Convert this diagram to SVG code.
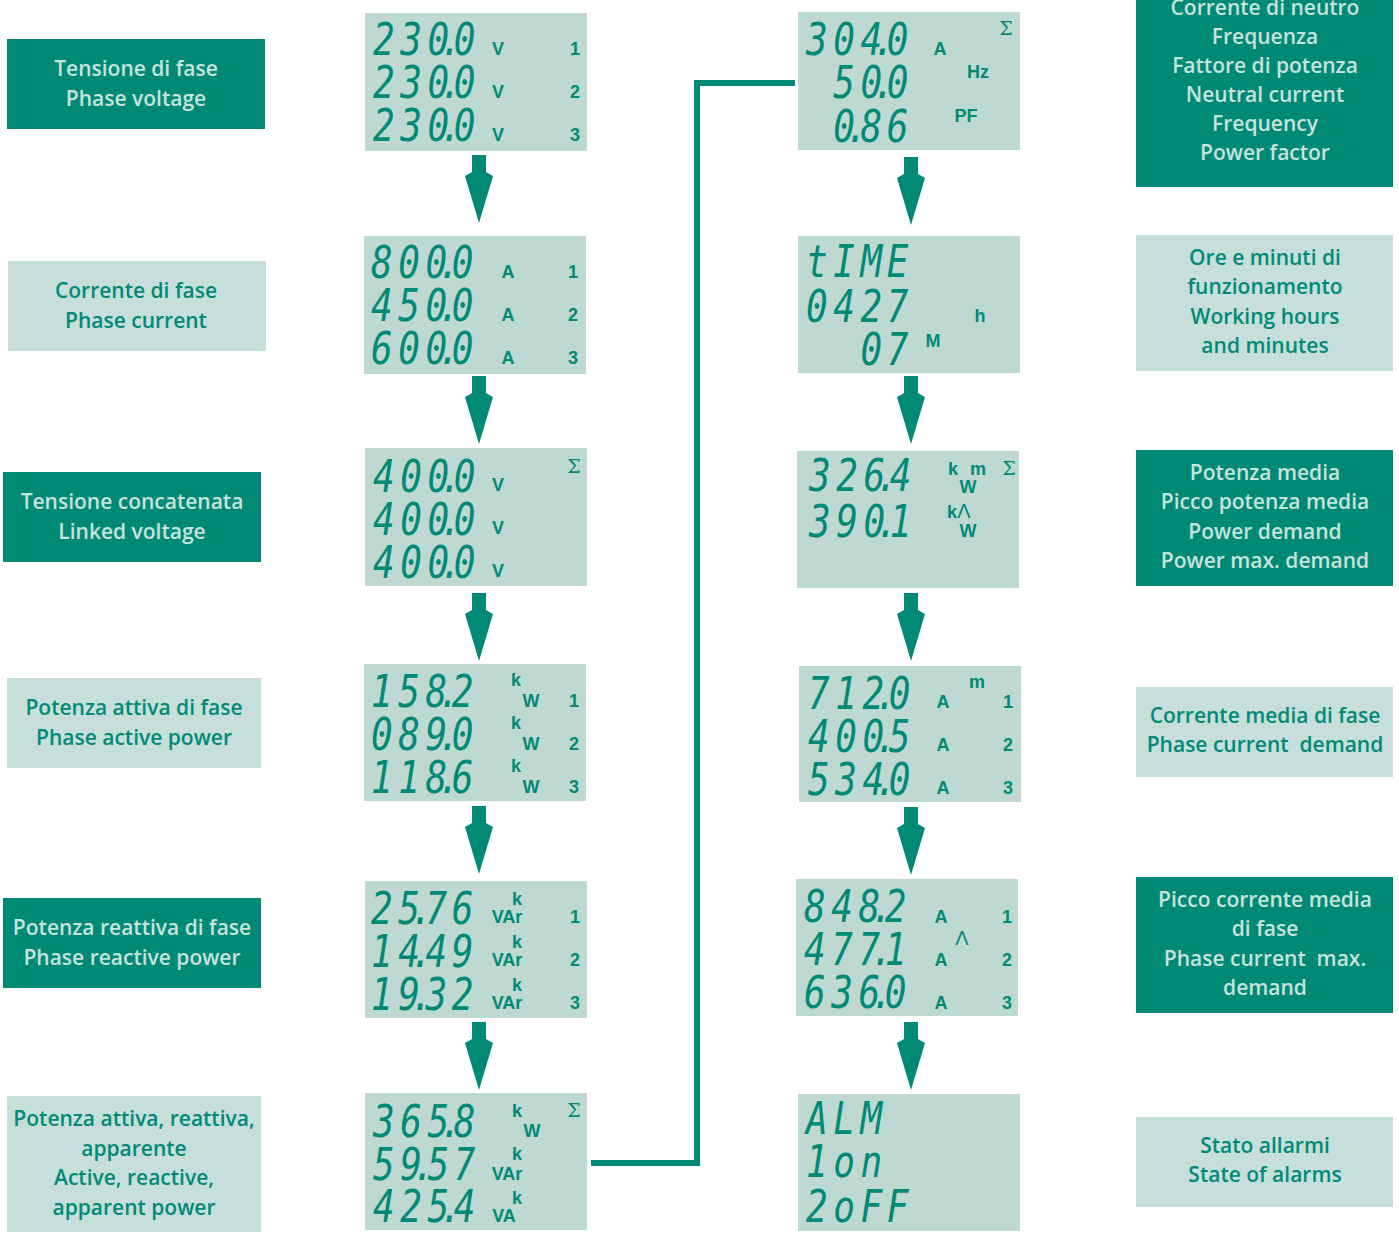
<svg xmlns="http://www.w3.org/2000/svg" xmlns:xlink="http://www.w3.org/1999/xlink" width="1399" height="1236" viewBox="0 0 1399 1236">
<style>
.dk{fill:#008A76}
.lt{fill:#C6DFDA}
.lcd{fill:#BDD9D2}
.lbl{font-family:'Open Sans','Noto Sans',sans-serif;font-weight:600;font-size:21px;text-anchor:middle}
.ld{fill:#C7E3DC}
.ll{fill:#008A76}
.seg{font-family:'DejaVu Sans Mono',monospace;font-style:oblique;font-size:45px;fill:#008A76}
.u{font-family:'Liberation Sans',Arial,sans-serif;font-weight:bold;font-size:18px;fill:#008A76;text-anchor:middle}
.sig{font-family:'DejaVu Serif',serif;font-size:19px;fill:#008A76;text-anchor:middle}
.lam{font-family:'Liberation Sans',Arial,sans-serif;font-size:20px;fill:#008A76;text-anchor:middle}
.arr{fill:#008A76}
.conn{fill:none;stroke:#008A76;stroke-width:6}
</style>
<defs>
<path id="arrow" d="M-7,0 H7 V17 L14,21 L0,68 L-14,21 L-7,17 Z"/>
</defs>

<g id="connectors">
<use xlink:href="#arrow" class="arr" x="479" y="155"/>
<use xlink:href="#arrow" class="arr" x="479" y="376"/>
<use xlink:href="#arrow" class="arr" x="479" y="593"/>
<use xlink:href="#arrow" class="arr" x="479" y="806"/>
<use xlink:href="#arrow" class="arr" x="479" y="1022"/>
<use xlink:href="#arrow" class="arr" x="911" y="157"/>
<use xlink:href="#arrow" class="arr" x="911" y="376"/>
<use xlink:href="#arrow" class="arr" x="911" y="593"/>
<use xlink:href="#arrow" class="arr" x="911" y="807"/>
<use xlink:href="#arrow" class="arr" x="911" y="1022"/>
<polyline class="conn" points="591,1163 697,1163 697,83 795,83"/>
</g>

<!-- Left labels -->
<g id="label-phase-voltage">
<rect class="dk" x="7" y="39" width="258" height="90"/>
<text class="lbl ld" x="136" y="76">Tensione di fase</text>
<text class="lbl ld" x="136" y="106">Phase voltage</text>
</g>
<g id="label-phase-current">
<rect class="lt" x="8" y="261" width="258" height="90"/>
<text class="lbl ll" x="136" y="298">Corrente di fase</text>
<text class="lbl ll" x="136" y="328">Phase current</text>
</g>
<g id="label-linked-voltage">
<rect class="dk" x="3" y="472" width="258" height="90"/>
<text class="lbl ld" x="132" y="509">Tensione concatenata</text>
<text class="lbl ld" x="132" y="539">Linked voltage</text>
</g>
<g id="label-phase-active">
<rect class="lt" x="7" y="678" width="254" height="90"/>
<text class="lbl ll" x="134" y="715">Potenza attiva di fase</text>
<text class="lbl ll" x="134" y="745">Phase active power</text>
</g>
<g id="label-phase-reactive">
<rect class="dk" x="3" y="898" width="258" height="90"/>
<text class="lbl ld" x="132" y="935">Potenza reattiva di fase</text>
<text class="lbl ld" x="132" y="965">Phase reactive power</text>
</g>
<g id="label-total-power">
<rect class="lt" x="7" y="1096" width="254" height="136"/>
<text class="lbl ll" x="134" y="1126">Potenza attiva, reattiva,</text>
<text class="lbl ll" x="134" y="1156">apparente</text>
<text class="lbl ll" x="134" y="1185">Active, reactive,</text>
<text class="lbl ll" x="134" y="1215">apparent power</text>
</g>

<!-- Middle LCDs -->
<g id="lcd-phase-voltage">
<rect class="lcd" x="365" y="13" width="222" height="138"/>
<text class="seg" transform="translate(373,55) scale(0.8,1)" x="0 34 68 84 101" y="0">230.0</text>
<text class="seg" transform="translate(373,98) scale(0.8,1)" x="0 34 68 84 101" y="0">230.0</text>
<text class="seg" transform="translate(373,141) scale(0.8,1)" x="0 34 68 84 101" y="0">230.0</text>
<text class="u" x="498" y="55">V</text><text class="u" x="575" y="55">1</text>
<text class="u" x="498" y="98">V</text><text class="u" x="575" y="98">2</text>
<text class="u" x="498" y="141">V</text><text class="u" x="575" y="141">3</text>
</g>
<g id="lcd-phase-current">
<rect class="lcd" x="364" y="236" width="222" height="138"/>
<text class="seg" transform="translate(371,278) scale(0.8,1)" x="0 34 68 84 101" y="0">800.0</text>
<text class="seg" transform="translate(371,321) scale(0.8,1)" x="0 34 68 84 101" y="0">450.0</text>
<text class="seg" transform="translate(371,364) scale(0.8,1)" x="0 34 68 84 101" y="0">600.0</text>
<text class="u" x="508" y="278">A</text><text class="u" x="573" y="278">1</text>
<text class="u" x="508" y="321">A</text><text class="u" x="573" y="321">2</text>
<text class="u" x="508" y="364">A</text><text class="u" x="573" y="364">3</text>
</g>
<g id="lcd-linked-voltage">
<rect class="lcd" x="365" y="448" width="222" height="138"/>
<text class="seg" transform="translate(373,492) scale(0.8,1)" x="0 34 68 84 101" y="0">400.0</text>
<text class="seg" transform="translate(373,535) scale(0.8,1)" x="0 34 68 84 101" y="0">400.0</text>
<text class="seg" transform="translate(373,578) scale(0.8,1)" x="0 34 68 84 101" y="0">400.0</text>
<text class="u" x="498" y="491">V</text>
<text class="u" x="498" y="534">V</text>
<text class="u" x="498" y="577">V</text>
<text class="sig" x="574" y="473">Σ</text>
</g>
<g id="lcd-phase-active">
<rect class="lcd" x="364" y="664" width="222" height="137"/>
<text class="seg" transform="translate(371,707) scale(0.8,1)" x="0 34 68 84 101" y="0">158.2</text>
<text class="seg" transform="translate(371,750) scale(0.8,1)" x="0 34 68 84 101" y="0">089.0</text>
<text class="seg" transform="translate(371,793) scale(0.8,1)" x="0 34 68 84 101" y="0">118.6</text>
<text class="u" x="516" y="686">k</text><text class="u" x="531" y="707">W</text><text class="u" x="574" y="707">1</text>
<text class="u" x="516" y="729">k</text><text class="u" x="531" y="750">W</text><text class="u" x="574" y="750">2</text>
<text class="u" x="516" y="772">k</text><text class="u" x="531" y="793">W</text><text class="u" x="574" y="793">3</text>
</g>
<g id="lcd-phase-reactive">
<rect class="lcd" x="365" y="881" width="222" height="137"/>
<text class="seg" transform="translate(371,924) scale(0.8,1)" x="0 34 50 68 101" y="0">25.76</text>
<text class="seg" transform="translate(371,967) scale(0.8,1)" x="0 34 50 68 101" y="0">14.49</text>
<text class="seg" transform="translate(371,1010) scale(0.8,1)" x="0 34 50 68 101" y="0">19.32</text>
<text class="u" x="517" y="905">k</text><text class="u" x="507" y="923">VAr</text><text class="u" x="575" y="923">1</text>
<text class="u" x="517" y="948">k</text><text class="u" x="507" y="966">VAr</text><text class="u" x="575" y="966">2</text>
<text class="u" x="517" y="991">k</text><text class="u" x="507" y="1009">VAr</text><text class="u" x="575" y="1009">3</text>
</g>
<g id="lcd-total-power">
<rect class="lcd" x="365" y="1093" width="222" height="137"/>
<text class="seg" transform="translate(373,1137) scale(0.8,1)" x="0 34 68 84 101" y="0">365.8</text>
<text class="seg" transform="translate(373,1180) scale(0.8,1)" x="0 34 50 68 101" y="0">59.57</text>
<text class="seg" transform="translate(373,1222) scale(0.8,1)" x="0 34 68 84 101" y="0">425.4</text>
<text class="u" x="517" y="1117">k</text><text class="u" x="532" y="1137">W</text>
<text class="u" x="517" y="1160">k</text><text class="u" x="507" y="1180">VAr</text>
<text class="u" x="517" y="1204">k</text><text class="u" x="504" y="1222">VA</text>
<text class="sig" x="574" y="1117">Σ</text>
</g>

<!-- Right LCDs -->
<g id="lcd-neutral-freq-pf">
<rect class="lcd" x="798" y="12" width="222" height="138"/>
<text class="seg" transform="translate(806,55) scale(0.8,1)" x="0 34 68 84 101" y="0">304.0</text>
<text class="seg" transform="translate(806,98) scale(0.8,1)" x="34 68 84 101" y="0">50.0</text>
<text class="seg" transform="translate(806,142) scale(0.8,1)" x="34 50 68 101" y="0">0.86</text>
<text class="u" x="940" y="55">A</text>
<text class="u" x="978" y="78">Hz</text>
<text class="u" x="966" y="122">PF</text>
<text class="sig" x="1006" y="35">Σ</text>
</g>
<g id="lcd-working-hours">
<rect class="lcd" x="798" y="236" width="222" height="137"/>
<text class="seg" transform="translate(806,277) scale(0.8,1)" x="0 34 68 101" y="0">tIME</text>
<text class="seg" transform="translate(806,322) scale(0.8,1)" x="0 34 68 101" y="0">0427</text>
<text class="seg" transform="translate(806,365) scale(0.8,1)" x="68 101" y="0">07</text>
<text class="u" x="980" y="322">h</text>
<text class="u" x="933" y="347">M</text>
</g>
<g id="lcd-power-demand">
<rect class="lcd" x="797" y="451" width="222" height="137"/>
<text class="seg" transform="translate(809,491) scale(0.8,1)" x="0 34 68 84 101" y="0">326.4</text>
<text class="seg" transform="translate(809,537) scale(0.8,1)" x="0 34 68 84 101" y="0">390.1</text>
<text class="u" x="953" y="475">k</text><text class="u" x="978" y="475">m</text>
<text class="u" x="968" y="493">W</text>
<text class="u" x="952" y="518">k</text><text class="lam" x="964" y="518">Λ</text>
<text class="u" x="968" y="537">W</text>
<text class="sig" x="1009" y="475">Σ</text>
</g>
<g id="lcd-current-demand">
<rect class="lcd" x="799" y="666" width="222" height="136"/>
<text class="seg" transform="translate(808,709) scale(0.8,1)" x="0 34 68 84 101" y="0">712.0</text>
<text class="seg" transform="translate(808,752) scale(0.8,1)" x="0 34 68 84 101" y="0">400.5</text>
<text class="seg" transform="translate(808,795) scale(0.8,1)" x="0 34 68 84 101" y="0">534.0</text>
<text class="u" x="977" y="688">m</text>
<text class="u" x="943" y="708">A</text><text class="u" x="1008" y="708">1</text>
<text class="u" x="943" y="751">A</text><text class="u" x="1008" y="751">2</text>
<text class="u" x="943" y="794">A</text><text class="u" x="1008" y="794">3</text>
</g>
<g id="lcd-current-max-demand">
<rect class="lcd" x="796" y="879" width="222" height="137"/>
<text class="seg" transform="translate(804,922) scale(0.8,1)" x="0 34 68 84 101" y="0">848.2</text>
<text class="seg" transform="translate(804,965) scale(0.8,1)" x="0 34 68 84 101" y="0">477.1</text>
<text class="seg" transform="translate(804,1008) scale(0.8,1)" x="0 34 68 84 101" y="0">636.0</text>
<text class="u" x="941" y="923">A</text><text class="u" x="1007" y="923">1</text>
<text class="lam" x="962" y="945">Λ</text>
<text class="u" x="941" y="966">A</text><text class="u" x="1007" y="966">2</text>
<text class="u" x="941" y="1009">A</text><text class="u" x="1007" y="1009">3</text>
</g>
<g id="lcd-alarms">
<rect class="lcd" x="798" y="1094" width="222" height="137"/>
<text class="seg" transform="translate(806,1134) scale(0.8,1)" x="0 34 68" y="0">ALM</text>
<text class="seg" transform="translate(806,1177) scale(0.8,1)" x="0 34 68" y="0">1on</text>
<text class="seg" transform="translate(806,1222) scale(0.8,1)" x="0 34 68 101" y="0">2oFF</text>
</g>

<!-- Right labels -->
<g id="label-neutral-freq-pf">
<rect class="dk" x="1136" y="-40" width="257" height="227"/>
<text class="lbl ld" x="1265" y="15">Corrente di neutro</text>
<text class="lbl ld" x="1265" y="44">Frequenza</text>
<text class="lbl ld" x="1265" y="73">Fattore di potenza</text>
<text class="lbl ld" x="1265" y="102">Neutral current</text>
<text class="lbl ld" x="1265" y="131">Frequency</text>
<text class="lbl ld" x="1265" y="160">Power factor</text>
</g>
<g id="label-working-hours">
<rect class="lt" x="1136" y="235" width="257" height="136"/>
<text class="lbl ll" x="1265" y="265">Ore e minuti di</text>
<text class="lbl ll" x="1265" y="294">funzionamento</text>
<text class="lbl ll" x="1265" y="324">Working hours</text>
<text class="lbl ll" x="1265" y="353">and minutes</text>
</g>
<g id="label-power-demand">
<rect class="dk" x="1136" y="450" width="257" height="136"/>
<text class="lbl ld" x="1265" y="480">Potenza media</text>
<text class="lbl ld" x="1265" y="509">Picco potenza media</text>
<text class="lbl ld" x="1265" y="539">Power demand</text>
<text class="lbl ld" x="1265" y="568">Power max. demand</text>
</g>
<g id="label-current-demand">
<rect class="lt" x="1136" y="687" width="257" height="90"/>
<text class="lbl ll" x="1265" y="723">Corrente media di fase</text>
<text class="lbl ll" x="1265" y="752" xml:space="preserve">Phase current  demand</text>
</g>
<g id="label-current-max-demand">
<rect class="dk" x="1136" y="877" width="257" height="136"/>
<text class="lbl ld" x="1265" y="907">Picco corrente media</text>
<text class="lbl ld" x="1265" y="936">di fase</text>
<text class="lbl ld" x="1265" y="966" xml:space="preserve">Phase current  max.</text>
<text class="lbl ld" x="1265" y="995">demand</text>
</g>
<g id="label-alarms">
<rect class="lt" x="1136" y="1117" width="257" height="90"/>
<text class="lbl ll" x="1265" y="1153">Stato allarmi</text>
<text class="lbl ll" x="1265" y="1182">State of alarms</text>
</g>
</svg>
